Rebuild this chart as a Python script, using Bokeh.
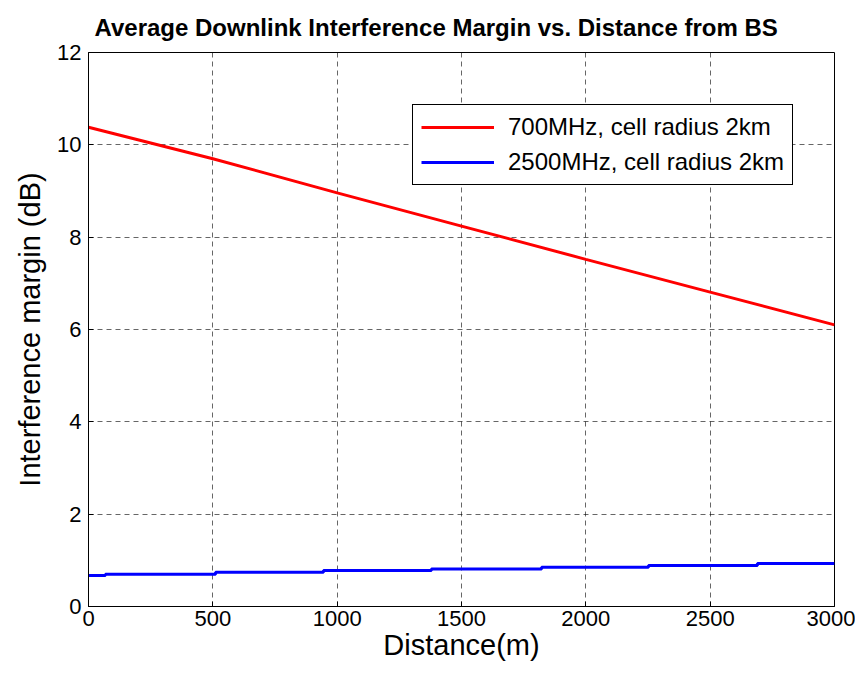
from bokeh.plotting import figure
from bokeh.models import Range1d, SingleIntervalTicker, Legend, LegendItem
from bokeh.embed import file_html
from bokeh.resources import INLINE

# Data
red_x = [0, 500, 1000, 1500, 2000, 2500, 3000]
red_y = [10.38, 9.70, 8.96, 8.24, 7.52, 6.81, 6.10]

blue_x = [0, 68, 511, 945, 1379, 1822, 2252, 2690, 3000]
blue_y = [0.67, 0.70, 0.74, 0.78, 0.81, 0.85, 0.89, 0.93, 0.93]

series_labels = ["700MHz, cell radius 2km", "2500MHz, cell radius 2km"]
title_text = "Average Downlink Interference Margin vs. Distance from BS"
x_label = "Distance(m)"
y_label = "Interference margin (dB)"

FONT = "Liberation Sans"

p = figure(width=855, height=669, output_backend="svg", toolbar_location=None,
           x_range=Range1d(0, 3000), y_range=Range1d(0, 12),
           min_border_left=88, min_border_right=21, min_border_top=52, min_border_bottom=63)

p.title.text = title_text
p.title.text_font = FONT
p.title.text_font_size = "24px"
p.title.text_font_style = "bold"
p.title.text_color = "black"
p.title.align = "left"
p.title.offset = 6
p.title.standoff = 23

p.outline_line_color = "black"
p.outline_line_width = 1
p.outline_line_alpha = 1

for ax in (p.xaxis[0], p.yaxis[0]):
    ax.major_tick_in = 5
    ax.major_tick_out = 0
    ax.minor_tick_in = 0
    ax.minor_tick_out = 0
    ax.axis_line_color = "black"
    ax.major_tick_line_color = "black"
    ax.major_label_text_font = FONT
    ax.major_label_text_font_size = "22px"
    ax.major_label_text_color = "black"
    ax.axis_label_text_font = FONT
    ax.axis_label_text_font_size = "29px"
    ax.axis_label_text_font_style = "normal"
    ax.axis_label_text_color = "black"

p.xaxis.ticker = SingleIntervalTicker(interval=500)
p.yaxis.ticker = SingleIntervalTicker(interval=2)
p.xaxis.axis_label = x_label
p.yaxis.axis_label = y_label
p.xaxis.major_label_standoff = 4
p.xaxis.axis_label_standoff = 0
p.yaxis.major_label_standoff = 7
p.yaxis.axis_label_standoff = 8

p.xgrid.ticker = SingleIntervalTicker(interval=500)
p.ygrid.ticker = SingleIntervalTicker(interval=2)
for g in (p.xgrid[0], p.ygrid[0]):
    g.grid_line_color = "black"
    g.grid_line_alpha = 0.6
    g.grid_line_dash = "5 4"
    g.grid_line_width = 1

r1 = p.line(red_x, red_y, line_color="#ff0000", line_width=3)
r2 = p.step(blue_x, blue_y, mode="after", line_color="#0000ff", line_width=3)

legend = Legend(items=[LegendItem(label=series_labels[0], renderers=[r1]),
                       LegendItem(label=series_labels[1], renderers=[r2])],
                location=(324, 421))
legend.label_text_font = FONT
legend.label_text_font_size = "24px"
legend.label_text_color = "black"
legend.glyph_width = 73
legend.glyph_height = 28
legend.label_height = 28
legend.label_standoff = 14
legend.spacing = 7
legend.padding = 8
legend.margin = 0
legend.border_line_color = "black"
legend.border_line_width = 1
legend.border_line_alpha = 1
legend.background_fill_alpha = 1
p.add_layout(legend, "center")

open("out.html", "w").write(file_html(p, INLINE))
